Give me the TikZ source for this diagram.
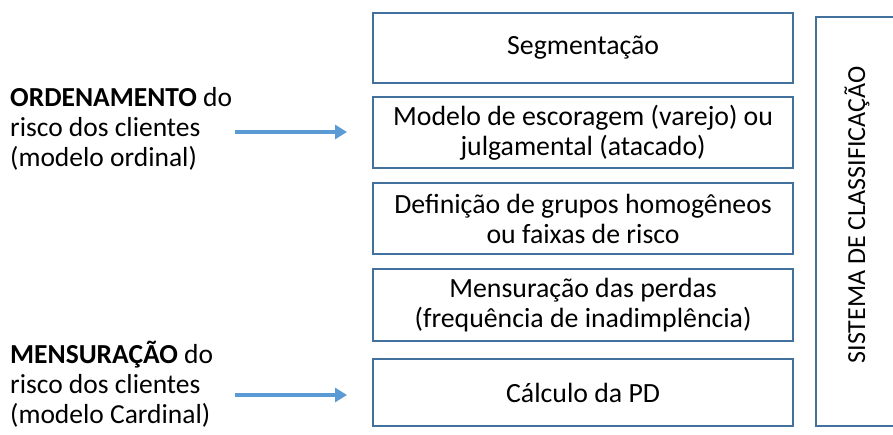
\documentclass[tikz,border=0pt]{standalone}
\usepackage{fontspec}
\setmainfont{Carlito}
\usetikzlibrary{arrows.meta}
\definecolor{boxline}{HTML}{41719C}
\definecolor{arrowblue}{HTML}{5B9BD5}
\begin{document}
\begin{tikzpicture}[x=1pt,y=1pt,
  stepbox/.style={draw=boxline, line width=2.2pt, minimum width=420pt, anchor=north west, align=center, font=\fontsize{27.8}{30}\selectfont, inner sep=0pt},
  lefttext/.style={anchor=north west, align=left, font=\fontsize{27.5}{30}\selectfont, inner sep=0pt},
  bigarrow/.style={draw=arrowblue, line width=3.5pt, -{Triangle[length=12pt,width=14pt]}}
]
\useasboundingbox (0,0) rectangle (893,435);
\clip (0,0) rectangle (893,435);
\node[stepbox, minimum height=70pt] (b1) at (372,423) {Segmentação};
\node[stepbox, minimum height=71pt] (b2) at (372,339) {Modelo de escoragem (varejo) ou\\julgamental (atacado)};
\node[stepbox, minimum height=71pt] (b3) at (372,253) {Definição de grupos homogêneos\\ou faixas de risco};
\node[stepbox, minimum height=72pt] (b4) at (372,167) {Mensuração das perdas\\(frequência de inadimplência)};
\node[stepbox, minimum height=67pt] (b5) at (372,77) {Cálculo da PD};
\node[draw=boxline, line width=2.2pt, anchor=north west, minimum width=100pt, minimum height=409pt] (sys) at (815,419) {};
\node[rotate=90, font=\fontsize{26}{30}\selectfont] (syst) at (857,220) {SISTEMA DE CLASSIFICAÇÃO};
\node[lefttext] (t1) at (10,348) {\textbf{ORDENAMENTO} do\\risco dos clientes\\(modelo ordinal)};
\node[lefttext] (t2) at (10,94) {\textbf{MENSURAÇÃO} do\\risco dos clientes\\(modelo Cardinal)};
\coordinate (a1s) at (235,303);
\coordinate (a1e) at (347,303);
\coordinate (a2s) at (235,40);
\coordinate (a2e) at (347,40);
\draw[bigarrow] (a1s) -- (a1e);
\draw[bigarrow] (a2s) -- (a2e);
\end{tikzpicture}
\end{document}
